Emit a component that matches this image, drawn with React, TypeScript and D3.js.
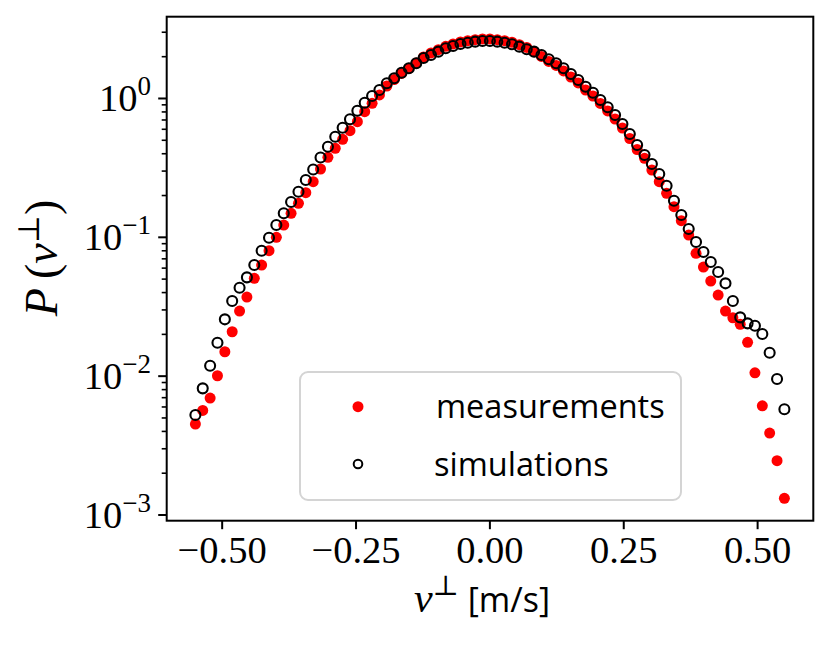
import React from "react";
import * as d3 from "d3";

// bin centres of the velocity histogram [m/s]
const vBins = [
  -0.55, -0.5363, -0.5225, -0.5088, -0.495, -0.4813, -0.4675, -0.4538, -0.44, -0.4263,
  -0.4125, -0.3988, -0.385, -0.3713, -0.3575, -0.3438, -0.33, -0.3163, -0.3025, -0.2888,
  -0.275, -0.2613, -0.2475, -0.2338, -0.22, -0.2063, -0.1925, -0.1788, -0.165, -0.1513,
  -0.1375, -0.1238, -0.11, -0.0963, -0.0825, -0.0688, -0.055, -0.0413, -0.0275, -0.0138,
  0,
  0.0138, 0.0275, 0.0413, 0.055, 0.0688, 0.0825, 0.0963, 0.11, 0.1238, 0.1375,
  0.1513, 0.165, 0.1788, 0.1925, 0.2063, 0.22, 0.2338, 0.2475, 0.2613, 0.275,
  0.2888, 0.3025, 0.3163, 0.33, 0.3438, 0.3575, 0.3713, 0.385, 0.3988, 0.4125,
  0.4263, 0.44, 0.4538, 0.4675, 0.4813, 0.495, 0.5088, 0.5225, 0.5363, 0.55,
];

const measurements = [
  0.00452, 0.00567, 0.00696, 0.01007, 0.01499, 0.02089, 0.02944, 0.03715, 0.05064, 0.06317,
  0.08007, 0.1, 0.1226, 0.1489, 0.1758, 0.2096, 0.2516, 0.3105, 0.377, 0.4377,
  0.5083, 0.5861, 0.6807, 0.8034, 0.9235, 1.06, 1.23, 1.37, 1.514, 1.651,
  1.803, 1.991, 2.127, 2.247, 2.377, 2.47, 2.553, 2.609, 2.652, 2.684,
  2.684,
  2.652, 2.609, 2.541, 2.441, 2.33, 2.174, 2.007, 1.847, 1.729, 1.578,
  1.428, 1.293, 1.151, 1.042, 0.9204, 0.8127, 0.7116, 0.613, 0.515, 0.4291,
  0.3708, 0.3054, 0.2516, 0.2075, 0.1662, 0.1317, 0.1039, 0.07667, 0.06109, 0.04843,
  0.0384, 0.02944, 0.02635, 0.02361, 0.01752, 0.01058, 0.00612, 0.00389, 0.00246, 0.00132,
];

const simulations = [
  0.00525, 0.00817, 0.01188, 0.0174, 0.02566, 0.03476, 0.04334, 0.05148, 0.06317, 0.08007,
  0.09934, 0.1226, 0.1489, 0.1796, 0.2131, 0.2587, 0.308, 0.3757, 0.4495, 0.5306,
  0.616, 0.7082, 0.8166, 0.9327, 1.042, 1.151, 1.287, 1.398, 1.534, 1.651,
  1.793, 1.958, 2.058, 2.174, 2.3, 2.389, 2.47, 2.523, 2.566, 2.596,
  2.596,
  2.566, 2.523, 2.458, 2.362, 2.262, 2.174, 2.058, 1.916, 1.793, 1.651,
  1.501, 1.359, 1.216, 1.101, 0.9754, 0.8642, 0.7605, 0.6552, 0.5548, 0.4624,
  0.3917, 0.3374, 0.2858, 0.2353, 0.1835, 0.1447, 0.1148, 0.0925, 0.07835, 0.0664,
  0.05623, 0.04662, 0.03476, 0.02652, 0.02401, 0.02307, 0.0201, 0.01474, 0.00953, 0.00577,
];

const xTicks = [-0.5, -0.25, 0, 0.25, 0.5];
const yTickExps = [0, -1, -2, -3];
const legendLabels = ["measurements", "simulations"];

const W = 831;
const H = 646;
const L = 166.7, R = 813.3, T = 16.7, B = 520.7;
const SERIF = "'Liberation Serif', 'DejaVu Serif', serif";
const SANS = "'Open Sans', 'Noto Sans', sans-serif";

export default function App() {
  const x = d3.scaleLinear().domain([-0.6036, 0.604]).range([L, R]);
  const y = d3.scaleLog().domain([Math.pow(10, -3.041), Math.pow(10, 0.589)]).range([B, T]);

  const minor: number[] = [];
  for (let e = -4; e <= 1; e++) {
    for (let m = 2; m <= 9; m++) {
      const v = m * Math.pow(10, e);
      const py = y(v);
      if (py >= T && py <= B) minor.push(v);
    }
  }

  const fmtX = (v: number) => (v < 0 ? "\u2212" : "") + Math.abs(v).toFixed(2);

  return (
    <div style={{ position: "absolute", left: 0, top: 0 }}>
      <svg width={W} height={H} viewBox={`0 0 ${W} ${H}`} style={{ display: "block", background: "#fff" }}>
        <rect x={0} y={0} width={W} height={H} fill="#fff" />
        {/* data */}
        <g>
          {measurements.map((v, i) => (
            <circle key={"m" + i} cx={x(vBins[i])} cy={y(v)} r={5.5} fill="#ff0000" />
          ))}
          {simulations.map((v, i) => (
            <circle key={"s" + i} cx={x(vBins[i])} cy={y(v)} r={5} fill="none" stroke="#000" strokeWidth={2.1} />
          ))}
        </g>
        {/* legend */}
        <g>
          <rect x={300} y={372} width={381} height={128} rx={8} ry={8} fill="#fff" fillOpacity={0.8} stroke="#d4d4d4" strokeWidth={2} />
          <circle cx={358} cy={406.7} r={5.5} fill="#ff0000" />
          <circle cx={358} cy={464} r={4.3} fill="none" stroke="#000" strokeWidth={2} />
          <text x={436} y={418.3} fontFamily={SANS} fontSize={32.5} fill="#000">{legendLabels[0]}</text>
          <text x={434} y={475.7} fontFamily={SANS} fontSize={32.5} fill="#000">{legendLabels[1]}</text>
        </g>
        {/* frame */}
        <rect x={L} y={T} width={R - L} height={B - T} fill="none" stroke="#000" strokeWidth={2} />
        {/* x ticks */}
        {xTicks.map((t) => (
          <g key={"xt" + t}>
            <line x1={x(t)} x2={x(t)} y1={B} y2={B + 8.5} stroke="#000" strokeWidth={2} />
            <text x={x(t)} y={563} textAnchor="middle" fontFamily={SERIF} fontSize={38.5} fill="#000">{fmtX(t)}</text>
          </g>
        ))}
        {/* y ticks */}
        {minor.map((v) => (
          <line key={"ym" + v} x1={L - 5} x2={L} y1={y(v)} y2={y(v)} stroke="#000" strokeWidth={1.6} />
        ))}
        {yTickExps.map((e) => {
          const py = y(Math.pow(10, e));
          return (
            <g key={"yt" + e}>
              <line x1={L - 8.5} x2={L} y1={py} y2={py} stroke="#000" strokeWidth={2} />
              <text x={151} y={py + 13} textAnchor="end" fontFamily={SERIF} fontSize={38.5} fill="#000">
                <tspan>10</tspan>
                <tspan dy={-16} fontSize={27}>{e === 0 ? "0" : "\u2212" + String(-e)}</tspan>
              </text>
            </g>
          );
        })}
        {/* x label */}
        <text x={482} y={612} textAnchor="middle" fontSize={42} fill="#000">
          <tspan fontFamily={SERIF} fontStyle="italic">v</tspan>
          <tspan dy={-17} fontSize={28} fontFamily="'DejaVu Serif', serif">{"\u22A5"}</tspan>
          <tspan dy={17} fontFamily={SANS} fontSize={34}>{" [m/s]"}</tspan>
        </text>
        {/* y label */}
        <text transform={`translate(57,258) rotate(-90)`} textAnchor="middle" fontSize={46} fill="#000" fontFamily={SERIF}>
          <tspan fontStyle="italic">P</tspan>
          <tspan>{"\u2009("}</tspan>
          <tspan fontStyle="italic">v</tspan>
          <tspan dy={-18} fontSize={30} fontFamily="'DejaVu Serif', serif">{"\u22A5"}</tspan>
          <tspan dy={18}>{")"}</tspan>
        </text>
      </svg>
    </div>
  );
}
